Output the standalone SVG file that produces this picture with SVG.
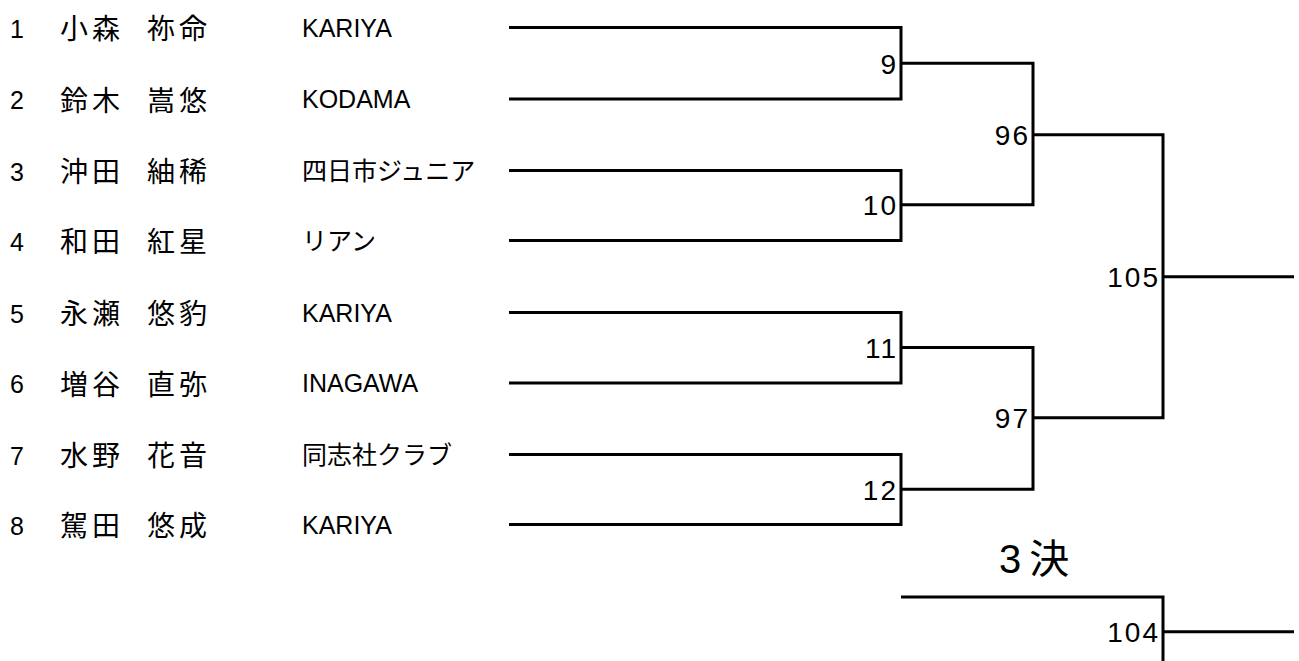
<svg xmlns="http://www.w3.org/2000/svg" width="1299" height="661" viewBox="0 0 1299 661">
<style>
.num{font-family:"Liberation Sans","Noto Sans CJK JP",sans-serif;font-size:25px;fill:#000}
.nm{font-family:"Liberation Sans","Noto Sans CJK JP",sans-serif;font-size:28px;letter-spacing:4px;fill:#000}
.tm{font-family:"Liberation Sans","Noto Sans CJK JP",sans-serif;font-size:25px;fill:#000}
.mn{font-family:"Liberation Sans","Noto Sans CJK JP",sans-serif;font-size:28px;letter-spacing:2px;text-anchor:end;fill:#000}
.ttl{font-family:"Liberation Sans","Noto Sans CJK JP",sans-serif;font-size:40px;letter-spacing:8px;fill:#000}
.ln{fill:none;stroke:#000;stroke-width:3;stroke-linejoin:miter;stroke-linecap:butt}
</style>
<rect width="1299" height="661" fill="#fff"/>
<g id="connectors" class="ln">
<path d="M509,27.5 H901 V99 H509"/>
<path d="M509,170.5 H901 V240.5 H509"/>
<path d="M509,312.5 H901 V383 H509"/>
<path d="M509,454.5 H901 V524.5 H509"/>
<path d="M901,63.3 H1033 V204.7 H901"/>
<path d="M901,347.5 H1033 V489.3 H901"/>
<path d="M1033,134.7 H1163 V417.7 H1033"/>
<path d="M1163,276.7 H1294"/>
<path d="M901,597 H1163 V661"/>
<path d="M1163,631.7 H1294"/>
</g>
<g id="p1"><text class="num" x="10" y="37.5">1</text><text class="nm" x="60" y="39">小森</text><text class="nm" x="147" y="39">祢命</text><text class="tm" x="302" y="36.5">KARIYA</text></g>
<g id="p2"><text class="num" x="10" y="109">2</text><text class="nm" x="60" y="110.5">鈴木</text><text class="nm" x="147" y="110.5">嵩悠</text><text class="tm" x="302" y="108">KODAMA</text></g>
<g id="p3"><text class="num" x="10" y="180.5">3</text><text class="nm" x="60" y="182">沖田</text><text class="nm" x="147" y="182">紬稀</text><text class="tm" x="302" y="179.5">四日市ジュニア</text></g>
<g id="p4"><text class="num" x="10" y="250.5">4</text><text class="nm" x="60" y="252">和田</text><text class="nm" x="147" y="252">紅星</text><text class="tm" x="302" y="249.5">リアン</text></g>
<g id="p5"><text class="num" x="10" y="322.5">5</text><text class="nm" x="60" y="324">永瀬</text><text class="nm" x="147" y="324">悠豹</text><text class="tm" x="302" y="321.5">KARIYA</text></g>
<g id="p6"><text class="num" x="10" y="393">6</text><text class="nm" x="60" y="394.5">増谷</text><text class="nm" x="147" y="394.5">直弥</text><text class="tm" x="302" y="392">INAGAWA</text></g>
<g id="p7"><text class="num" x="10" y="464.5">7</text><text class="nm" x="60" y="466">水野</text><text class="nm" x="147" y="466">花音</text><text class="tm" x="302" y="463.5">同志社クラブ</text></g>
<g id="p8"><text class="num" x="10" y="534.5">8</text><text class="nm" x="60" y="536">駕田</text><text class="nm" x="147" y="536">悠成</text><text class="tm" x="302" y="533.5">KARIYA</text></g>
<g id="m9"><text class="mn" x="898" y="73.5">9</text></g>
<g id="m10"><text class="mn" x="898" y="215">10</text></g>
<g id="m11"><text class="mn" x="898" y="357.5">11</text></g>
<g id="m12"><text class="mn" x="898" y="499.5">12</text></g>
<g id="m96"><text class="mn" x="1030" y="145">96</text></g>
<g id="m97"><text class="mn" x="1030" y="428">97</text></g>
<g id="m105"><text class="mn" x="1160" y="287">105</text></g>
<g id="third"><text class="ttl" x="999" y="573">3決</text></g>
<g id="m104"><text class="mn" x="1160" y="642">104</text></g>
</svg>
